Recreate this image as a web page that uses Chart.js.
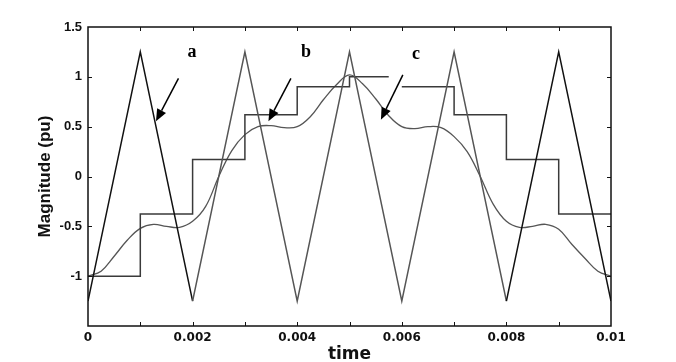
<!DOCTYPE html>
<html>
<head>
<meta charset="utf-8">
<script src="https://cdn.jsdelivr.net/npm/chart.js@4.4.1/dist/chart.umd.min.js"></script>
<style>
  html, body { margin: 0; padding: 0; background: #fff; }
  #wrap { width: 676px; height: 362px; }
</style>
</head>
<body>
<div id="wrap"><canvas id="pwmChart"></canvas></div>
<script>
// carrier (triangle) corners, time in seconds
const carrierTime = [0, 0.001, 0.002, 0.003, 0.004, 0.005, 0.006, 0.007, 0.008, 0.009, 0.01];
const carrierValue = [-1.25, 1.25, -1.25, 1.25, -1.25, 1.25, -1.25, 1.25, -1.25, 1.25, -1.25];

// staircase levels (null = gap in the line)
const stepTime = [0, 0.001, 0.002, 0.003, 0.004, 0.005, 0.00575, 0.0059, 0.006, 0.007, 0.008, 0.009, 0.01];
const stepValue = [-1, -0.375, 0.17, 0.62, 0.9, 1.0, 1.0, null, 0.9, 0.62, 0.17, -0.375, -0.375];

// smooth reference wave, read every 0.25 ms
const waveTime = [0, 0.00025, 0.0005, 0.00075, 0.001, 0.00125, 0.0015, 0.00175, 0.002, 0.00225,
  0.0025, 0.00275, 0.003, 0.00325, 0.0035, 0.00375, 0.004, 0.00425, 0.0045, 0.00475,
  0.005, 0.00525, 0.0055, 0.00575, 0.006, 0.00625, 0.0065, 0.00675, 0.007, 0.00725,
  0.0075, 0.00775, 0.008, 0.00825, 0.0085, 0.00875, 0.009, 0.00925, 0.0095, 0.00975, 0.01];
const waveValue = [-1.0, -0.95, -0.8, -0.64, -0.52, -0.48, -0.5, -0.51, -0.45, -0.3,
  0.0, 0.26, 0.42, 0.5, 0.51, 0.49, 0.5, 0.6, 0.77, 0.92,
  1.02, 0.93, 0.78, 0.61, 0.5, 0.48, 0.5, 0.49, 0.4, 0.25,
  0.0, -0.28, -0.45, -0.51, -0.5, -0.48, -0.53, -0.68, -0.82, -0.95, -1.0];

// labels a, b, c and their arrows (data units)
const tagText = ['a', 'b', 'c'];
const tagPos = [[0.00199, 1.25], [0.00417, 1.25], [0.00627, 1.23]];
const arrowFrom = [[0.00173, 0.985], [0.00388, 0.985], [0.00602, 1.02]];
const arrowTo = [[0.00130, 0.555], [0.00345, 0.555], [0.00560, 0.57]];

function toPoints(xs, ys) {
    return xs.map(function(x, i) { return { x: x, y: ys[i] }; });
}

// frame, inward ticks and annotations
const framePlugin = {
    id: 'framePlugin',
    afterDraw: function(chart) {
        const c = chart.ctx;
        const a = chart.chartArea;
        const xs = chart.scales.x;
        const ys = chart.scales.y;
        c.save();
        c.strokeStyle = '#111';
        c.lineWidth = 1.5;
        c.strokeRect(a.left, a.top, a.right - a.left, a.bottom - a.top);
        c.lineWidth = 1;
        c.beginPath();
        for (let i = 1; i < 10; i++) {
            const px = Math.round(xs.getPixelForValue(i * 0.001)) + 0.5;
            c.moveTo(px, a.top); c.lineTo(px, a.top + 4);
            c.moveTo(px, a.bottom); c.lineTo(px, a.bottom - 4);
        }
        for (let v = -1; v <= 1; v += 0.5) {
            const py = Math.round(ys.getPixelForValue(v)) + 0.5;
            c.moveTo(a.left, py); c.lineTo(a.left + 4, py);
            c.moveTo(a.right, py); c.lineTo(a.right - 4, py);
        }
        c.stroke();

        // arrows
        c.fillStyle = '#000';
        c.strokeStyle = '#000';
        c.lineWidth = 1.5;
        for (let i = 0; i < arrowFrom.length; i++) {
            const x0 = xs.getPixelForValue(arrowFrom[i][0]);
            const y0 = ys.getPixelForValue(arrowFrom[i][1]);
            const x1 = xs.getPixelForValue(arrowTo[i][0]);
            const y1 = ys.getPixelForValue(arrowTo[i][1]);
            const ang = Math.atan2(y1 - y0, x1 - x0);
            const len = 12, half = 5;
            const bx = x1 - len * Math.cos(ang);
            const by = y1 - len * Math.sin(ang);
            c.beginPath();
            c.moveTo(x0, y0);
            c.lineTo(bx, by);
            c.stroke();
            c.beginPath();
            c.moveTo(x1, y1);
            c.lineTo(bx + half * Math.sin(ang), by - half * Math.cos(ang));
            c.lineTo(bx - half * Math.sin(ang), by + half * Math.cos(ang));
            c.closePath();
            c.fill();
        }

        // letters
        c.font = 'bold 18px "Liberation Serif", serif';
        c.textAlign = 'center';
        c.textBaseline = 'middle';
        for (let i = 0; i < tagText.length; i++) {
            c.fillText(tagText[i], xs.getPixelForValue(tagPos[i][0]), ys.getPixelForValue(tagPos[i][1]));
        }
        c.restore();
    }
};

new Chart(document.getElementById('pwmChart'), {
    type: 'line',
    data: {
        datasets: [
            {
                label: 'carrier',
                data: toPoints(carrierTime, carrierValue),
                borderColor: '#555',
                borderWidth: 1.5,
                pointRadius: 0,
                tension: 0,
                segment: {
                    borderColor: function(ctx) {
                        return (ctx.p0DataIndex < 2 || ctx.p0DataIndex >= 8) ? '#111' : '#555';
                    }
                }
            },
            {
                label: 'staircase',
                data: toPoints(stepTime, stepValue),
                borderColor: '#3a3a3a',
                borderWidth: 1.5,
                pointRadius: 0,
                stepped: 'before',
                spanGaps: false
            },
            {
                label: 'reference',
                data: toPoints(waveTime, waveValue),
                borderColor: '#555',
                borderWidth: 1.3,
                pointRadius: 0,
                tension: 0.4
            }
        ]
    },
    options: {
        responsive: true,
        maintainAspectRatio: false,
        animation: false,
        layout: { padding: { top: 27, right: 65, left: 0, bottom: 0 } },
        plugins: {
            legend: { display: false },
            tooltip: { enabled: false }
        },
        scales: {
            x: {
                type: 'linear',
                min: 0,
                max: 0.01,
                grid: { display: false, drawTicks: false },
                border: { display: false },
                afterFit: function(scale) { scale.height = 36; },
                ticks: {
                    stepSize: 0.002,
                    maxRotation: 0,
                    padding: 5,
                    color: '#111',
                    font: { family: '"DejaVu Sans", sans-serif', size: 12, weight: 'bold' },
                    callback: function(value) {
                        return parseFloat(value.toFixed(4)).toString();
                    }
                },
                title: {
                    display: true,
                    text: 'time',
                    color: '#111',
                    padding: { top: 0, bottom: -3 },
                    font: { family: '"DejaVu Sans", sans-serif', size: 17, weight: 'bold' }
                }
            },
            y: {
                min: -1.5,
                max: 1.5,
                grid: { display: false, drawTicks: false },
                border: { display: false },
                afterFit: function(scale) { scale.width = 88; },
                ticks: {
                    stepSize: 0.5,
                    padding: 6,
                    color: '#111',
                    font: { family: '"Liberation Sans", Arial, sans-serif', size: 13, weight: 'bold' },
                    callback: function(value) {
                        return value === -1.5 ? '' : value;
                    }
                },
                title: {
                    display: true,
                    text: 'Magnitude (pu)',
                    color: '#111',
                    padding: { top: 35, bottom: 0 },
                    font: { family: '"Liberation Sans", Arial, sans-serif', size: 17, weight: 'bold' }
                }
            }
        }
    },
    plugins: [framePlugin]
});
</script>
</body>
</html>
